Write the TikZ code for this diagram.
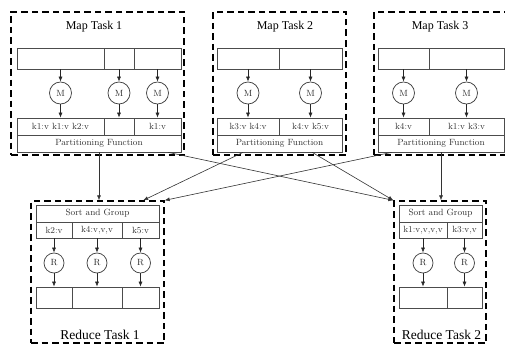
\documentclass[tikz,border=0pt]{standalone}
\usepackage{fontspec}
\newfontfamily\titlefont{Liberation Serif}
\usetikzlibrary{arrows.meta,calc}
\begin{document}
\begin{tikzpicture}[x=1pt,y=-1pt,
  cell/.style={draw=black!70, line width=0.75pt, inner sep=0pt, font=\fontsize{9}{10}\selectfont, text=black!80},
  task/.style={draw=black, line width=1.3pt, dash pattern=on 6.5pt off 4pt, inner sep=0pt},
  fn/.style={circle, draw=black!75, line width=0.75pt, minimum size=#1, inner sep=0pt, font=\fontsize{9}{10}\selectfont, text=black!85},
  arr/.style={-{Latex[length=5pt,width=4pt]}, line width=0.6pt, draw=black!85},
  link/.style={-{Latex[length=5pt,width=4pt]}, line width=0.6pt, draw=black!80},
  maptitle/.style={anchor=base, inner sep=0pt, font=\titlefont\fontsize{12}{13}\selectfont},
  redtitle/.style={anchor=base, inner sep=0pt, font=\titlefont\fontsize{13.5}{15}\selectfont}]
\useasboundingbox (0,0) rectangle (505,345);

% ---------- Map Task 1 ----------
\node[task, minimum width=173pt, minimum height=143pt] (mb1) at (97.5,83.5) {};
\node[maptitle] (mt1) at (94,30) {Map Task 1};
\node[cell, minimum width=87pt, minimum height=21pt] (i11) at (60.5,58.5) {};
\node[cell, minimum width=30pt, minimum height=21pt] (i12) at (119,58.5) {};
\node[cell, minimum width=47pt, minimum height=21pt] (i13) at (157.5,58.5) {};
\node[fn=22pt] (m11) at (60.5,93) {M};
\node[fn=22pt] (m12) at (119,93) {M};
\node[fn=22pt] (m13) at (157.5,93) {M};
\node[cell, minimum width=87pt, minimum height=17pt] (o11) at (60.5,126.5) {k1:v k1:v k2:v};
\node[cell, minimum width=30pt, minimum height=17pt] (o12) at (119,126.5) {};
\node[cell, minimum width=47pt, minimum height=17pt] (o13) at (157.5,126.5) {k1:v};
\node[cell, minimum width=164pt, minimum height=17pt] (p1) at (99,143.5) {Partitioning Function};

% ---------- Map Task 2 ----------
\node[task, minimum width=133pt, minimum height=143pt] (mb2) at (279.5,83.5) {};
\node[maptitle] (mt2) at (285,30) {Map Task 2};
\node[cell, minimum width=62pt, minimum height=21pt] (i21) at (248,58.5) {};
\node[cell, minimum width=63pt, minimum height=21pt] (i22) at (310.5,58.5) {};
\node[fn=22pt] (m21) at (248,93) {M};
\node[fn=22pt] (m22) at (310.5,93) {M};
\node[cell, minimum width=62pt, minimum height=17pt] (o21) at (248,126.5) {k3:v k4:v};
\node[cell, minimum width=63pt, minimum height=17pt] (o22) at (310.5,126.5) {k4:v k5:v};
\node[cell, minimum width=125pt, minimum height=17pt] (p2) at (279.5,143.5) {Partitioning Function};

% ---------- Map Task 3 ----------
\node[task, minimum width=133pt, minimum height=143pt] (mb3) at (440.5,83.5) {};
\node[maptitle] (mt3) at (440,30) {Map Task 3};
\node[cell, minimum width=51pt, minimum height=21pt] (i31) at (403.5,58.5) {};
\node[cell, minimum width=75pt, minimum height=21pt] (i32) at (466.5,58.5) {};
\node[fn=22pt] (m31) at (403.5,93) {M};
\node[fn=22pt] (m32) at (466.5,93) {M};
\node[cell, minimum width=51pt, minimum height=17pt] (o31) at (403.5,126.5) {k4:v};
\node[cell, minimum width=75pt, minimum height=17pt] (o32) at (466.5,126.5) {k1:v k3:v};
\node[cell, minimum width=126pt, minimum height=17pt] (p3) at (441,143.5) {Partitioning Function};

% map arrows
\foreach \a/\b/\c in {i11/m11/o11, i12/m12/o12, i13/m13/o13, i21/m21/o21, i22/m22/o22, i31/m31/o31, i32/m32/o32}{
  \draw[arr] (\a.south) -- (\b.north);
  \draw[arr] (\b.south) -- (\c.north);
}

% ---------- Reduce Task 1 ----------
\node[task, minimum width=133pt, minimum height=142pt] (rb1) at (97.5,272) {};
\node[cell, minimum width=123pt, minimum height=17pt] (s1) at (97.5,213.5) {Sort and Group};
\node[cell, minimum width=36pt, minimum height=16pt] (k11) at (54,230) {k2:v};
\node[cell, minimum width=50pt, minimum height=16pt] (k12) at (97,230) {k4:v,v,v};
\node[cell, minimum width=37pt, minimum height=16pt] (k13) at (140.5,230) {k5:v};
\node[fn=20pt] (r11) at (54,263) {R};
\node[fn=20pt] (r12) at (97,263) {R};
\node[fn=20pt] (r13) at (140.5,263) {R};
\node[cell, minimum width=36pt, minimum height=21pt] (q11) at (54,297.5) {};
\node[cell, minimum width=50pt, minimum height=21pt] (q12) at (97,297.5) {};
\node[cell, minimum width=37pt, minimum height=21pt] (q13) at (140.5,297.5) {};
\node[redtitle] (rt1) at (100,339.5) {Reduce Task 1};

% ---------- Reduce Task 2 ----------
\node[task, minimum width=92pt, minimum height=142pt] (rb2) at (440,272) {};
\node[cell, minimum width=83pt, minimum height=17pt] (s2) at (440.5,213.5) {Sort and Group};
\node[cell, minimum width=48pt, minimum height=16pt] (k21) at (423,230) {k1:v,v,v,v};
\node[cell, minimum width=35pt, minimum height=16pt] (k22) at (464.5,230) {k3:v,v};
\node[fn=20pt] (r21) at (423,263) {R};
\node[fn=20pt] (r22) at (464.5,263) {R};
\node[cell, minimum width=48pt, minimum height=21pt] (q21) at (423,297.5) {};
\node[cell, minimum width=35pt, minimum height=21pt] (q22) at (464.5,297.5) {};
\node[redtitle] (rt2) at (441.5,339.5) {Reduce Task 2};

% reduce arrows
\foreach \a/\b/\c in {k11/r11/q11, k12/r12/q12, k13/r13/q13, k21/r21/q21, k22/r22/q22}{
  \draw[arr] (\a.south) -- (\b.north);
  \draw[arr] (\b.south) -- (\c.north);
}

% ---------- shuffle links ----------
\draw[link] (p1.south) -- (p1.south |- rb1.north);
\draw[link] ($(p1.south west)!0.92!(p1.south east)$) -- (rb2.north west);
\draw[link] ($(p2.south west)!0.21!(p2.south east)$) -- ($(rb1.north west)!0.84!(rb1.north east)$);
\draw[link] ($(p2.south west)!0.76!(p2.south east)$) -- (rb2.north west);
\draw[link] ($(p3.south west)!0.11!(p3.south east)$) -- (rb1.north east);
\draw[link] (p3.south) -- (p3.south |- rb2.north);
\end{tikzpicture}
\end{document}
